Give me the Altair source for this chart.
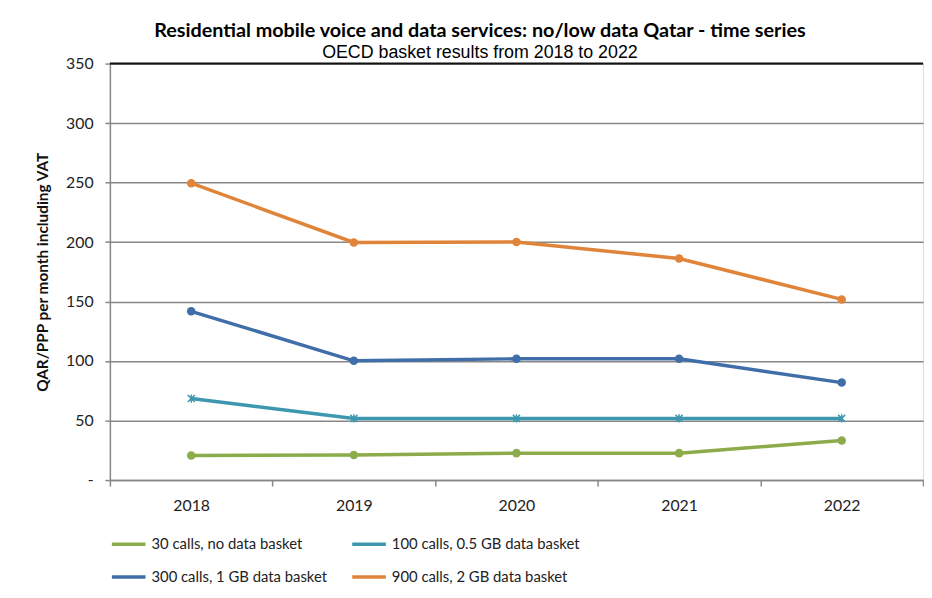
import altair as alt
import pandas as pd

years = ["2018", "2019", "2020", "2021", "2022"]
series_names = [
    "30 calls, no data basket",
    "100 calls, 0.5 GB data basket",
    "300 calls, 1 GB data basket",
    "900 calls, 2 GB data basket",
]
green_vals = [20.6, 21.1, 22.6, 22.6, 33.2]
teal_vals = [68.5, 51.8, 51.8, 51.8, 51.8]
blue_vals = [141.8, 100.2, 101.9, 101.9, 81.9]
orange_vals = [249.5, 199.7, 200.0, 186.2, 151.8]
colors = ["#8CAC4B", "#3D98AF", "#3F6EA8", "#E0843A"]
y_ticks = [0, 50, 100, 150, 200, 250, 300, 350]

rows = []
for name, vals in zip(series_names, [green_vals, teal_vals, blue_vals, orange_vals]):
    for yr, v in zip(years, vals):
        rows.append({"series": name, "year": yr, "value": v})
df = pd.DataFrame(rows)

FONT = "Lato"
GRID = "#878787"
star_pt = "M0,-1L0,1M-0.85,-0.85L0.85,0.85M-0.85,0.85L0.85,-0.85"

legend = alt.Legend(
    title=None,
    orient="bottom",
    columns=2,
    offset=12,
    columnPadding=18,
    rowPadding=6,
    symbolType="stroke",
    symbolStrokeWidth=3.5,
    symbolSize=1156,
    labelFont=FONT,
    labelFontSize=15,
    labelColor="#222222",
    labelLimit=400,
)

color_enc = alt.Color("series:N", scale=alt.Scale(domain=series_names, range=colors), legend=legend)
stroke_enc = alt.Stroke("series:N", scale=alt.Scale(domain=series_names, range=colors), legend=None)
fill_enc = alt.Fill("series:N", scale=alt.Scale(domain=series_names, range=colors), legend=None)
xenc = alt.X(
    "year:O",
    scale=alt.Scale(type="band", paddingInner=0, paddingOuter=0),
    bandPosition=0.5,
    axis=alt.Axis(
        title=None, grid=False, tickBand="extent", domainColor=GRID, tickColor=GRID,
        tickSize=6, labelFont=FONT, labelFontSize=16, labelColor="#222222",
        labelPadding=12, labelAngle=0, domainWidth=1.5, tickWidth=1.5,
    ),
)
yenc = alt.Y(
    "value:Q",
    scale=alt.Scale(domain=[0, 350], nice=False),
    axis=alt.Axis(
        title="QAR/PPP per month including VAT", values=y_ticks,
        labelExpr="datum.value === 0 ? '-' : datum.label",
        grid=True, gridColor=GRID, gridWidth=1.5, domainColor=GRID, domainWidth=1.5,
        tickColor=GRID, tickSize=5, tickWidth=1.5, labelFont=FONT, labelFontSize=16,
        labelColor="#222222", labelPadding=12, titleFont=FONT, titleFontSize=15.5,
        titleFontWeight="bold", titleColor="#111111", titlePadding=15,
    ),
)

base = alt.Chart(df)
lines = base.mark_line(strokeWidth=3.5).encode(x=xenc, y=yenc, color=color_enc)
dots = base.transform_filter(
    alt.datum.series != series_names[1]
).mark_point(filled=True, size=75, opacity=1, shape="circle").encode(x=xenc, y=yenc, fill=fill_enc)
stars = base.transform_filter(
    alt.datum.series == series_names[1]
).mark_point(filled=False, size=70, opacity=1, strokeWidth=1.5, shape=star_pt).encode(x=xenc, y=yenc, stroke=stroke_enc)
top_rule = alt.Chart(pd.DataFrame({"v": [y_ticks[-1]]})).mark_rule(color="#111111", strokeWidth=2).encode(y="v:Q")

chart = alt.layer(lines, dots, stars, top_rule).properties(
    width=822,
    height=421,
    title=alt.TitleParams(
        text="Residential mobile voice and data services: no/low data Qatar - time series",
        subtitle="OECD basket results from 2018 to 2022",
        anchor="middle",
        frame="bounds",
        font=FONT,
        fontSize=20,
        fontWeight="bold",
        color="#000000",
        subtitleFont="Liberation Sans",
        subtitleFontSize=18,
        subtitleColor="#000000",
        subtitlePadding=3,
        offset=-6,
    ),
    padding={"left": 28, "top": 10, "right": 0, "bottom": 5},
).configure_view(stroke=None).configure(background="white")

chart.save("out.html", embed_options={"renderer": "svg", "actions": False})
